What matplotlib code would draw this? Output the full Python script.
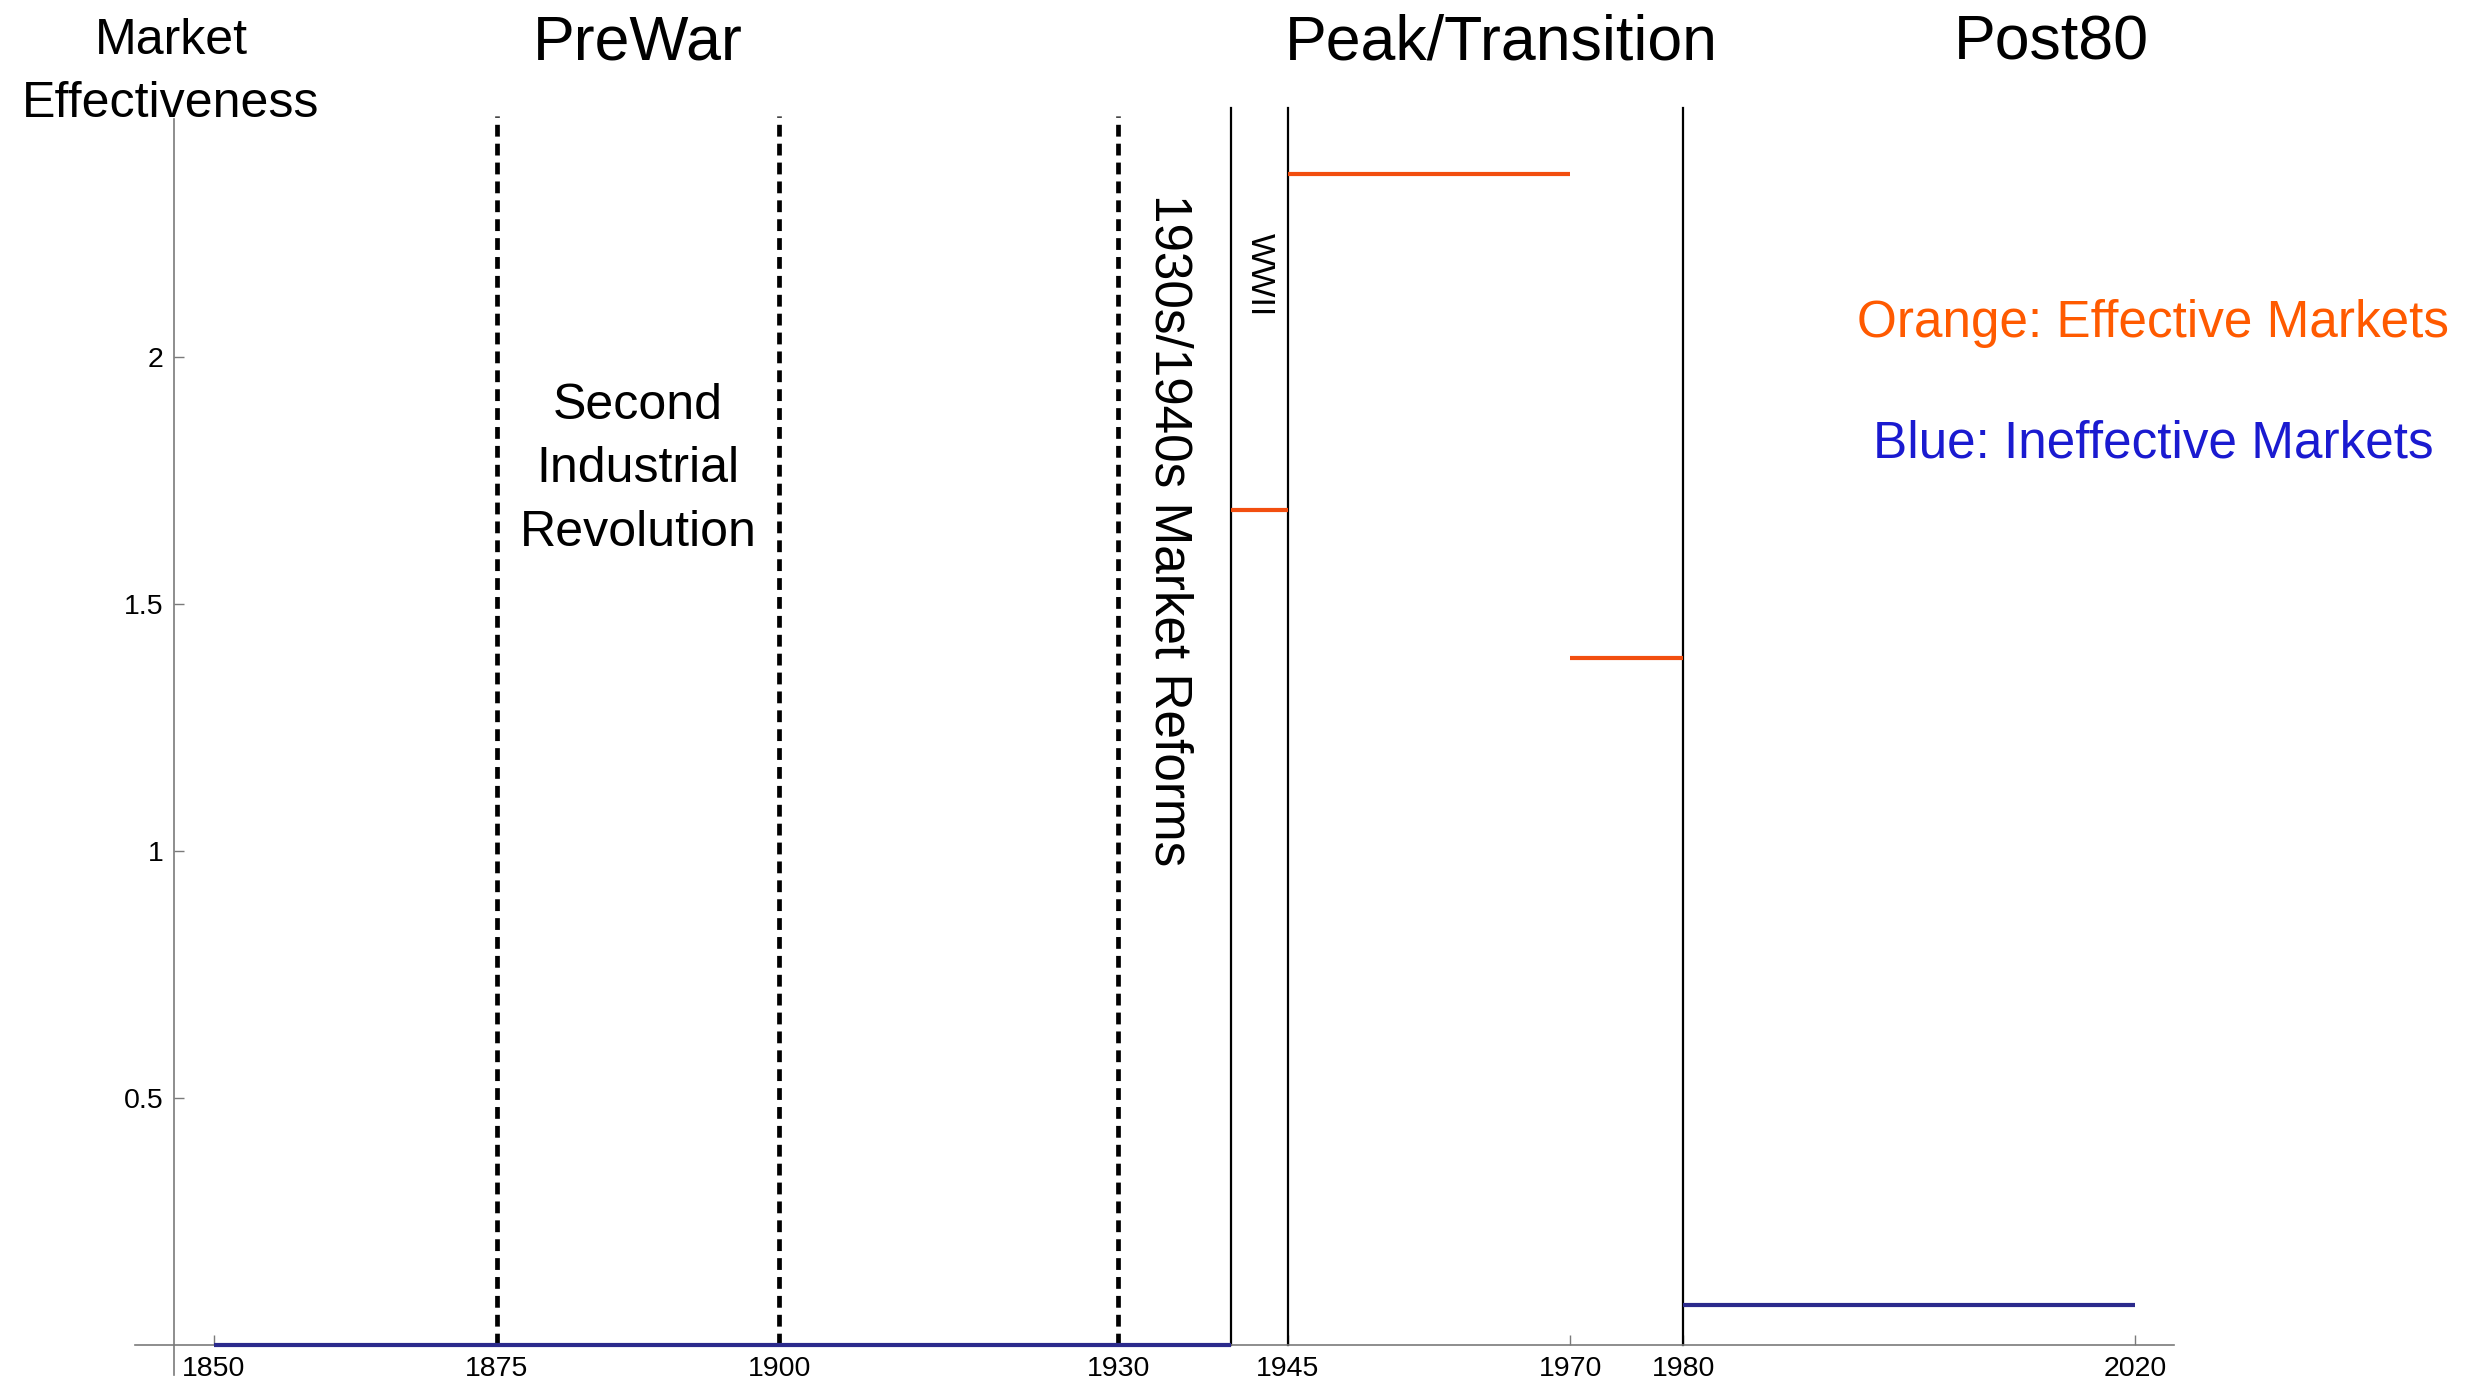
import matplotlib
matplotlib.use("Agg")
import matplotlib.pyplot as plt
from matplotlib import font_manager

# era boundaries and market levels
effective_x0 = [1940, 1945, 1970]
effective_x1 = [1945, 1970, 1980]
effective_y = [1.69, 2.37, 1.39]

ineffective_x0 = [1850, 1980]
ineffective_x1 = [1940, 2020]
ineffective_y = [0.0, 0.08]

dashed_years = [1875, 1900, 1930]
solid_years = [1940, 1945, 1980]

xticks = [1850, 1875, 1900, 1930, 1945, 1970, 1980, 2020]
yticks = [0.5, 1, 1.5, 2]
ytick_labels = ["0.5", "1", "1.5", "2"]

eras = ["PreWar", "Peak/Transition", "Post80"]
era_x = [1887.5, 1963.9, 2012.6]

orange_line = "#f24e0f"
orange_text = "#ff5a00"
blue_line = "#2b2a8c"
blue_text = "#1a1ad0"

names = {f.name for f in font_manager.fontManager.ttflist}
narrow = "Liberation Sans Narrow" in names
big = ["Liberation Sans Narrow", "Liberation Sans", "DejaVu Sans"] if narrow else ["Liberation Sans", "DejaVu Sans"]
k = 1.0 if narrow else 0.82
plt.rcParams["font.family"] = ["Liberation Sans", "DejaVu Sans"]

fig = plt.figure(figsize=(24.84, 13.85), dpi=100)
ax = fig.add_axes([0.0543, 0.0075, 0.8208, 0.917])
ax.set_xlim(1843, 2023.4)
ax.set_ylim(-0.06, 2.51)

for s in ["top", "right"]:
    ax.spines[s].set_visible(False)
ax.spines["bottom"].set_position(("data", 0))
ax.spines["left"].set_position(("data", 1846.5))
ax.spines["left"].set_bounds(-0.06, 2.48)
for s in ["bottom", "left"]:
    ax.spines[s].set_color("#7a7a7a")
    ax.spines[s].set_linewidth(1.2)

ax.set_xticks(xticks)
ax.set_xticklabels([str(t) for t in xticks])
ax.set_yticks(yticks)
ax.set_yticklabels(ytick_labels)
ax.tick_params(direction="in", length=7, width=1, color="#7a7a7a",
               labelsize=20.5, pad=8)

# reference lines
for yr in dashed_years:
    ax.plot([yr, yr], [0, 2.487], color="black", lw=3.4, dashes=(2.5, 1.5))
for yr in solid_years:
    ax.plot([yr, yr], [0, 2.503], color="black", lw=1.6)

# market levels
for a, b, v in zip(ineffective_x0, ineffective_x1, ineffective_y):
    ax.plot([a, b], [v, v], color=blue_line, lw=3, solid_capstyle="butt", zorder=3)
for a, b, v in zip(effective_x0, effective_x1, effective_y):
    ax.plot([a, b], [v, v], color=orange_line, lw=3, solid_capstyle="butt", zorder=3)

# labels
for name, x in zip(eras, era_x):
    ax.text(x, 2.634, name, family=big, fontsize=55 * k, ha="center", va="center",
            clip_on=False)
ax.text(1846.2, 2.575, "Market\nEffectiveness", family=big, fontsize=44 * k,
        ha="center", va="center", linespacing=1.49, clip_on=False)
ax.text(1887.5, 1.772, "Second\nIndustrial\nRevolution", family=big, fontsize=44 * k,
        ha="center", va="center", linespacing=1.49)
ax.text(1934.5, 2.33, "1930s/1940s Market Reforms", family=big, fontsize=45 * k,
        rotation=-90, ha="center", va="top")
ax.text(1942.5, 2.25, "WWII", family=big, fontsize=30 * k,
        rotation=-90, ha="center", va="top")
ax.text(2021.6, 2.067, "Orange: Effective Markets", family=big, fontsize=45 * k,
        color=orange_text, ha="center", va="center", clip_on=False)
ax.text(2021.6, 1.824, "Blue: Ineffective Markets", family=big, fontsize=45 * k,
        color=blue_text, ha="center", va="center", clip_on=False)

fig.savefig("out.png", dpi=100)
